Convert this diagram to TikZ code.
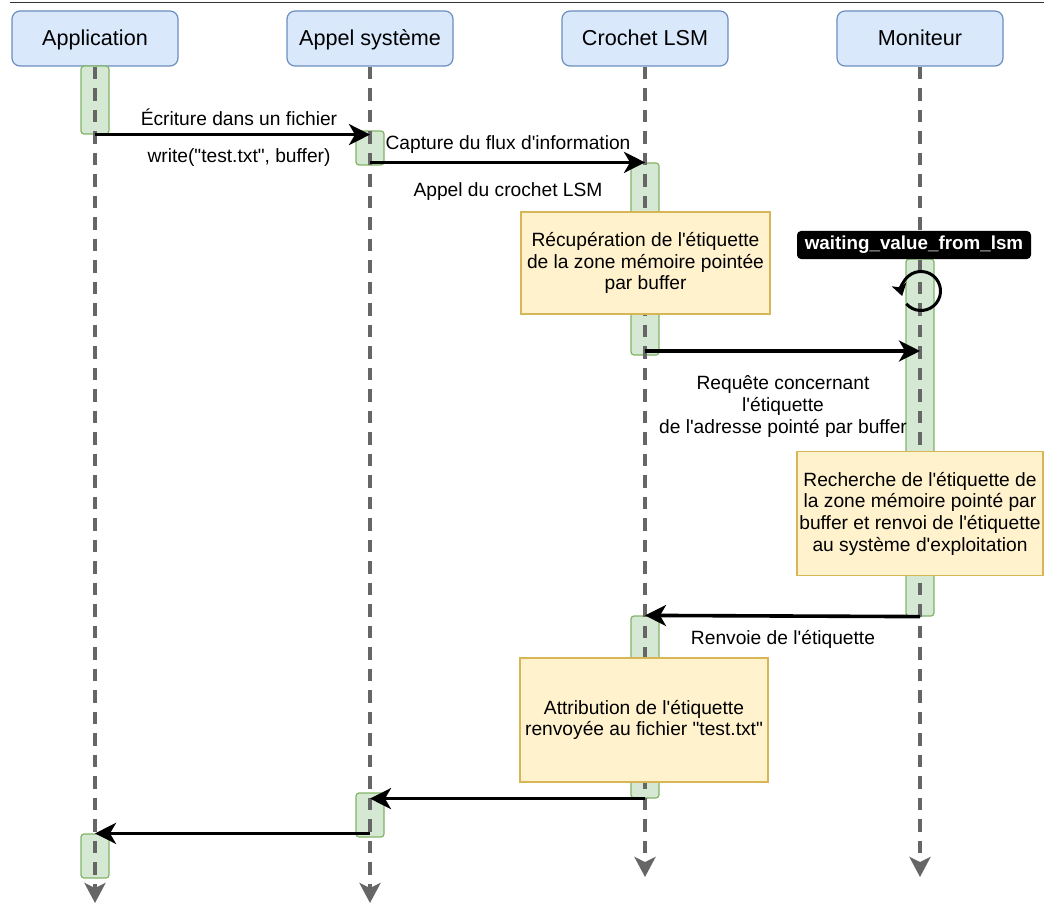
\documentclass[tikz,border=0pt]{standalone}
\usepackage{fontspec}
\setmainfont{Liberation Sans}[Ligatures={TeXOff,CommonOff}]
\usetikzlibrary{arrows.meta}
\definecolor{hdrfill}{HTML}{DAE8FC}
\definecolor{hdrline}{HTML}{6C8EBF}
\definecolor{actfill}{HTML}{D5E8D4}
\definecolor{actline}{HTML}{82B366}
\definecolor{notefill}{HTML}{FFF2CC}
\definecolor{noteline}{HTML}{D6B656}
\definecolor{lifegray}{HTML}{666666}
\begin{document}
\begin{tikzpicture}[x=1pt,y=-1pt,
  header/.style={draw=hdrline, fill=hdrfill, rounded corners=8pt, line width=1.2pt,
    minimum width=166pt, minimum height=55pt, inner sep=0pt,
    text height=19.5pt, text depth=4.5pt,
    font=\fontsize{21.6}{26}\selectfont},
  lifeline/.style={draw=lifegray, line width=3.6pt, dash pattern=on 12.5pt off 9pt,
    -{Stealth[length=20pt,width=21pt,inset=5pt]}},
  act/.style={draw=actline, fill=actfill, rounded corners=3pt, line width=1.2pt,
    minimum width=28pt, inner sep=0pt},
  note/.style={draw=noteline, fill=notefill, line width=1.2pt, inner sep=0pt,
    align=center, font=\fontsize{19.2}{21.7}\selectfont},
  msg/.style={draw=black, line width=3.6pt, -{Stealth[length=21pt,width=21pt,inset=6pt]}},
  lbl/.style={font=\fontsize{19.2}{22}\selectfont, inner sep=0pt, align=center},
]
\useasboundingbox (0,0) rectangle (1044,904);

% rule along the top edge
\draw[line width=1pt, black!80] (10,3) -- (1044,3);

% participants
\node[header] (hApp) at (95,38.5)  {Application};
\node[header] (hSys) at (370,38.5) {Appel système};
\node[header] (hLsm) at (645,38.5) {Crochet LSM};
\node[header] (hMon) at (920,38.5) {Moniteur};

% activation bars
\node[act, minimum height=68pt]  (a1) at (95,100)    {};
\node[act, minimum height=34pt]  (s1) at (370,148)   {};
\node[act, minimum height=192pt] (c1) at (645,259)   {};
\node[act, minimum height=357pt] (mb) at (920,437.5) {};
\node[act, minimum height=182pt] (c2) at (645,707)   {};
\node[act, minimum height=44pt]  (s2) at (370,815)   {};
\node[act, minimum height=44pt]  (a2) at (95,856)    {};

% lifelines
\coordinate (eApp) at (95,903);
\coordinate (eSys) at (370,903);
\coordinate (eLsm) at (645,877);
\coordinate (eMon) at (920,877);
\draw[lifeline] (hApp.south) -- (eApp);
\draw[lifeline] (hSys.south) -- (eSys);
\draw[lifeline] (hLsm.south) -- (eLsm);
\draw[lifeline] (hMon.south) -- (eMon);

% notes
\node[note, minimum width=249pt, minimum height=102pt] (r1) at (645.5,263)
  {Récupération de l'étiquette\\de la zone mémoire pointée\\par buffer};
\node[note, minimum width=246pt, minimum height=124pt] (r2) at (920,513.5)
  {Recherche de l'étiquette de\\la zone mémoire pointé par\\buffer et renvoi de l'étiquette\\au système d'exploitation};
\node[note, minimum width=248pt, minimum height=124pt] (r3) at (644,720)
  {Attribution de l'étiquette\\renvoyée au fichier "test.txt"};

% state label and waiting loop
\node[fill=black, rounded corners=4pt, text=white, inner sep=0pt,
      minimum width=234pt, minimum height=28pt,
      font=\bfseries\fontsize{18.8}{22}\selectfont] (wait) at (914,245)
  {waiting\_value\_from\_lsm};
\coordinate (loop) at (921,291);
\draw[line width=3pt, -{Stealth[length=12pt,width=15pt,inset=3pt]}]
  ([shift={(139:19.5)}]loop) arc[start angle=139, end angle=-195, radius=19.5];

% messages
\coordinate (m3s) at (645,351);
\coordinate (m3e) at (920,351);
\draw[msg] (a1.south) -- (a1.south -| s1.center);
\draw[msg] (s1.center |- c1.north) -- (c1.north);
\draw[msg] (m3s) -- (m3e);
\draw[msg] (mb.south) -- (c2.north);
\draw[msg] (c2.south) -- (c2.south -| s2.center);
\draw[msg] (a2.north -| s2.center) -- (a2.north);

% message labels
\node[lbl, anchor=base] (t1) at (239,126) {Écriture dans un fichier};
\node[lbl, anchor=base] (t2) at (239,163) {write("test.txt", buffer)};
\node[lbl, anchor=base] (t3) at (508,150) {Capture du flux d'information};
\node[lbl, anchor=base] (t4) at (508,197) {Appel du crochet LSM};
\node[lbl] (t5) at (783,407) {Requête concernant\\l'étiquette\\de l'adresse pointé par buffer};
\node[lbl, anchor=base] (t6) at (783,644) {Renvoie de l'étiquette};
\end{tikzpicture}
\end{document}
